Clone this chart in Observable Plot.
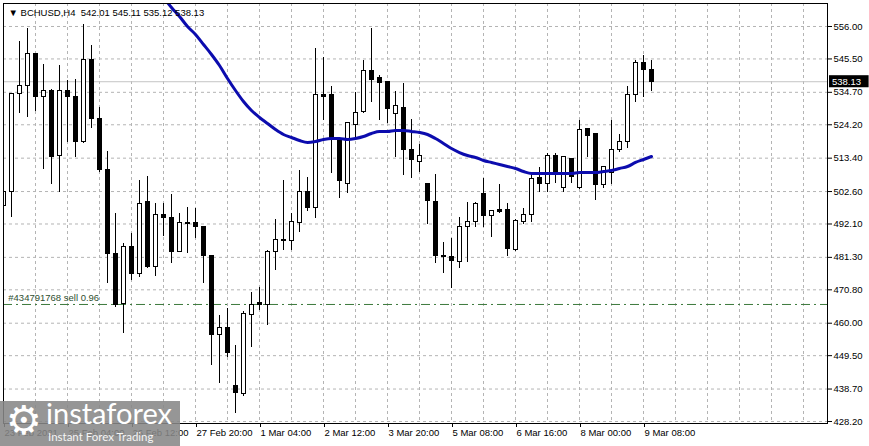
<!DOCTYPE html>
<html>
<head>
<meta charset="utf-8">
<script src="https://cdn.jsdelivr.net/npm/d3@7"></script>
<script src="https://cdn.jsdelivr.net/npm/@observablehq/plot@0.6"></script>
<style>
  body { margin: 0; background: #fff; }
  #wrap { position: relative; width: 869px; height: 446px; overflow: hidden; background: #fff; }
  #wm { position: absolute; left: 0; top: 401px; width: 180px; height: 45px; background: rgba(135,135,135,0.88); overflow: hidden; }
  #wm .gear { position: absolute; left: 6px; top: -4px; font: 40px "DejaVu Sans"; color: #fff; }
  #wm .big { position: absolute; left: 46px; top: -6px; font: 29px Lato, "Open Sans", sans-serif; color: #fff; }
  #wm .small { position: absolute; left: 48px; top: 29px; font: 11.5px Lato, "Open Sans", sans-serif; color: #f4f4f4; }
</style>
</head>
<body>
<div id="wrap">
  <div id="chart"></div>
  <div id="wm"><span class="gear">⚙</span><span class="big">instaforex</span><span class="small">Instant Forex Trading</span></div>
</div>
<script>
// ---- data (BCHUSD H4) ----
const symbol = "BCHUSD,H4";
const lastOHLC = [542.01, 545.11, 535.12, 538.13];

const open = [497.76, 502.29, 534.0, 536.59, 546.94, 533.03, 535.29, 514.26, 535.29, 533.03,
  518.47, 545.0, 525.91, 509.73, 482.23, 466.06, 484.50, 475.76, 499.06, 478.03,
  495.17, 493.88, 483.20, 492.26, 492.26, 490.97, 481.59, 456.03, 458.29, 439.53,
  436.94, 462.50, 466.38, 465.73, 482.88, 486.76, 486.44, 492.26, 502.29, 497.12,
  533.68, 533.68, 519.44, 505.20, 524.29, 528.18, 541.44, 539.18, 537.88, 527.53,
  529.79, 515.88, 512.0, 504.88, 499.06, 481.59, 481.26, 479.65, 490.97, 492.59,
  501.65, 494.53, 496.47, 496.47, 483.53, 492.59, 494.85, 506.82, 504.88, 513.94,
  503.59, 512.97, 503.59, 522.68, 521.06, 504.56, 508.44, 515.88, 518.79, 533.68,
  544.03, 542.01];
const high = [505.20, 534.3, 551.15, 555.35, 547.26, 543.71, 535.5, 543.38, 538.53, 538.85,
  556.65, 549.85, 529.79, 515.56, 495.50, 485.79, 489.03, 506.18, 507.47, 498.73,
  498.73, 501.65, 495.50, 497.44, 497.12, 491.2, 481.91, 462.50, 464.76, 452.79,
  463.79, 469.94, 471.56, 483.5, 493.56, 506.18, 495.50, 509.41, 507.15, 548.88,
  545.97, 536.59, 519.6, 524.94, 534.65, 545.0, 555.35, 540.15, 538.1, 534.97,
  537.56, 525.91, 517.82, 505.1, 508.12, 486.12, 487.41, 494.20, 499.06, 499.06,
  506.82, 496.3, 504.88, 498.73, 493.56, 497.12, 508.12, 510.38, 514.91, 514.91,
  513.8, 513.29, 525.59, 523.0, 521.2, 510.70, 525.59, 521.06, 536.59, 545.0,
  546.62, 545.11];
const low = [473.82, 494.20, 527.85, 526.56, 528.50, 509.73, 504.88, 502.29, 518.47, 513.62,
  518.15, 523.0, 508.76, 472.85, 465.09, 456.67, 473.82, 474.79, 477.8, 475.12,
  488.06, 479.32, 483.0, 482.56, 487.41, 472.85, 446.32, 440.50, 448.91, 430.79,
  436.29, 452.14, 464.12, 459.26, 477.06, 483.53, 483.53, 489.35, 496.15, 493.88,
  525.59, 508.44, 500.35, 501.97, 519.76, 528.0, 531.41, 525.59, 524.62, 513.62,
  507.79, 506.82, 508.76, 491.94, 479.32, 476.09, 471.23, 477.70, 479.65, 490.97,
  490.97, 487.73, 495.50, 481.59, 483.3, 491.94, 492.59, 502.29, 502.29, 505.20,
  502.29, 505.20, 503.4, 513.62, 499.70, 503.59, 504.88, 515.23, 516.53, 531.41,
  532.99, 535.12];
const close = [502.29, 534.0, 536.59, 546.94, 533.03, 535.29, 513.62, 535.29, 533.03, 518.47,
  545.0, 525.91, 509.73, 482.23, 465.73, 484.50, 475.76, 498.73, 478.03, 495.17,
  493.88, 483.20, 492.26, 491.94, 490.97, 481.59, 456.03, 458.29, 450.20, 437.26,
  462.82, 465.73, 465.73, 483.20, 486.76, 486.44, 492.59, 502.29, 497.12, 533.68,
  533.35, 519.44, 505.85, 524.62, 527.85, 541.44, 538.53, 537.56, 529.15, 530.12,
  515.88, 512.65, 514.26, 499.70, 481.59, 481.26, 479.97, 490.97, 492.59, 498.73,
  494.53, 496.15, 495.82, 484.17, 493.23, 495.17, 506.50, 504.88, 513.94, 508.76,
  513.62, 507.15, 522.35, 520.73, 504.56, 510.38, 515.88, 518.79, 533.68, 544.35,
  542.01, 538.13];

// moving average, starting at bar index 20
const maStart = 20;
const maValues = [565.38, 562.15, 559.24, 556.0, 553.41, 550.18, 546.94, 543.38, 539.18, 535.29,
  531.73, 528.82, 526.56, 524.62, 522.68, 521.06, 520.09, 519.12, 518.47, 518.79,
  519.44, 519.76, 519.76, 519.44, 519.76, 520.41, 521.38, 522.03, 522.03, 522.35,
  522.35, 522.03, 521.70, 521.06, 519.76, 518.15, 516.53, 515.23, 514.26, 513.62,
  512.65, 512.0, 511.35, 510.70, 510.06, 509.09, 508.44, 508.44, 508.44, 508.44,
  508.44, 508.44, 508.76, 508.76, 508.76, 509.09, 509.41, 510.06, 510.70, 512.0,
  512.97, 513.94];

const yTicks = [556.00, 545.50, 534.70, 524.20, 513.40, 502.60, 492.10, 481.30, 470.80, 460.00, 449.50, 438.70, 428.20];
const xTickIndex = [0, 8, 16, 24, 32, 40, 48, 56, 64, 72, 80];
const xTickLabels = ["23 Feb 2021", "25 Feb 04:00", "26 Feb 12:00", "27 Feb 20:00", "1 Mar 04:00", "2 Mar 12:00",
  "3 Mar 20:00", "5 Mar 08:00", "6 Mar 16:00", "8 Mar 00:00", "9 Mar 08:00"];
const xGridIndex = d3.range(0, 104, 4);

const currentPrice = 538.13;
const sellPrice = 466.06;
const sellLabel = "#434791768 sell 0.96";

// ---- build tables ----
const bars = open.map((o, i) => ({i, open: o, high: high[i], low: low[i], close: close[i]}));
const ma = maValues.map((v, k) => ({i: maStart + k, v}));
const header = ["\u25BC " + symbol + "  " + lastOHLC.map(v => v.toFixed(2)).join(" ")];

const FONT = "'Liberation Sans', Arial, sans-serif";

const chart = Plot.plot({
  width: 869,
  height: 446,
  marginLeft: 3,
  marginRight: 42,
  marginTop: 3,
  marginBottom: 23,
  style: {fontFamily: FONT, fontSize: "9.5px", background: "transparent", color: "black", overflow: "visible"},
  x: {domain: [0, 103], axis: null, label: null},
  y: {domain: [427.55, 563.44], axis: null, label: null},
  marks: [
    Plot.gridY(yTicks, {stroke: "#b4b4b4", strokeOpacity: 1, strokeDasharray: "3,3"}),
    Plot.gridX(xGridIndex, {stroke: "#b4b4b4", strokeOpacity: 1, strokeDasharray: "3,3"}),
    Plot.ruleY([currentPrice], {stroke: "#c4c4c4", strokeWidth: 1}),
    Plot.ruleY([sellPrice], {stroke: "#3d7a3d", strokeWidth: 1, strokeDasharray: "9,4,2,4"}),
    Plot.text([sellLabel], {x: 0.6, y: () => sellPrice, text: d => d, dy: -7, textAnchor: "start", fill: "#2f4f2f"}),
    Plot.ruleX(bars, {x: "i", y1: "low", y2: "high", stroke: "black", strokeWidth: 1, clip: true, shapeRendering: "crispEdges"}),
    Plot.rect(bars, {
      x1: d => d.i - 0.25, x2: d => d.i + 0.25,
      y1: "open", y2: "close",
      fill: d => d.close >= d.open ? "white" : "black",
      stroke: "black", strokeWidth: 1, clip: true, shapeRendering: "crispEdges"
    }),
    Plot.line(ma, {x: "i", y: "v", stroke: "#0c0cae", strokeWidth: 3, curve: "monotone-x", clip: true}),
    Plot.frame({stroke: "black"}),
    Plot.axisY(yTicks, {anchor: "right", label: null, tickSize: 4, tickPadding: 2, tickFormat: d => d.toFixed(2), fill: "black", stroke: "black"}),
    Plot.axisX(xTickIndex, {
      anchor: "bottom", label: null, tickSize: 4, tickPadding: 2,
      tickFormat: d => xTickLabels[xTickIndex.indexOf(d)],
      textAnchor: "start", dx: 1, fill: "black", stroke: "black"
    }),
    Plot.rect([currentPrice], {x1: 103.25, x2: 108.2, y1: d => d - 1.95, y2: d => d + 1.95, fill: "black"}),
    Plot.text([currentPrice], {x: 103.55, y: d => d, text: d => d.toFixed(2), fill: "white", textAnchor: "start"}),
    Plot.text(header, {frameAnchor: "top-left", text: d => d, dx: 5, dy: 9, textAnchor: "start", lineAnchor: "middle", fill: "black"})
  ]
});
document.getElementById("chart").appendChild(chart);
</script>
</body>
</html>
